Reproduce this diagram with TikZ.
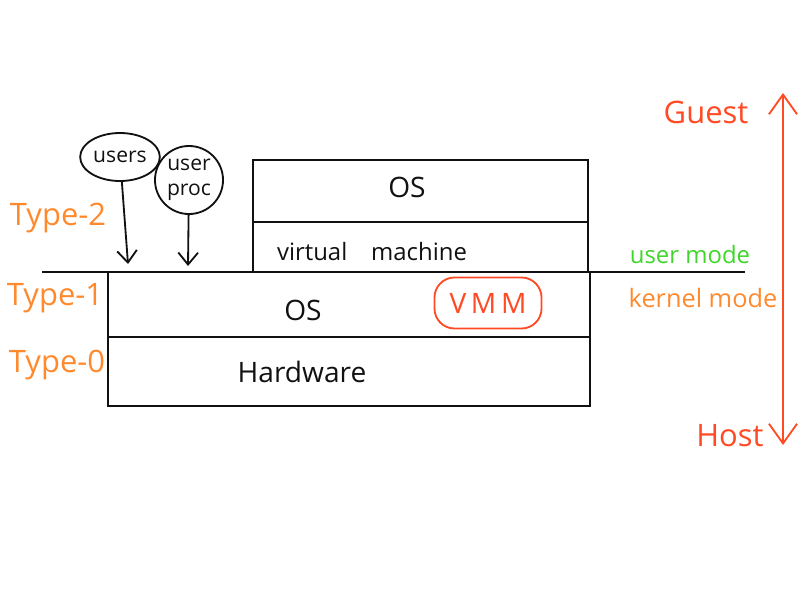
\documentclass[tikz,border=0pt]{standalone}
\usepackage{fontspec}
\setmainfont{Open Sans}
\usepackage{tikz}
\usetikzlibrary{arrows.meta,positioning,shapes.geometric}
\definecolor{ink}{HTML}{111111}
\definecolor{tagorange}{HTML}{FF8A2E}
\definecolor{hostred}{HTML}{FF4A24}
\definecolor{usergreen}{HTML}{3FD62A}

\begin{document}
\begin{tikzpicture}[
  x=0.025cm, y=-0.025cm,
  every node/.style={font=\fontsize{20}{24}\selectfont, text=ink},
  layer/.style={rectangle, draw=ink, line width=1.3pt, inner sep=0pt, outer sep=0pt},
  bubble/.style={ellipse, draw=ink, line width=1.3pt, inner sep=1pt, align=center, font=\fontsize{15}{18}\selectfont},
  tag/.style={text=tagorange, font=\fontsize{22}{26}\selectfont},
  mode/.style={font=\fontsize{17}{20}\selectfont},
  arrow/.style={-{Straight Barb[length=8.5pt,width=14pt]}, line width=1.3pt, draw=ink},
  span/.style={{Straight Barb[length=14pt,width=20pt]}-{Straight Barb[length=14pt,width=20pt]}, line width=1.3pt, draw=hostred}
]
\useasboundingbox (0,0) rectangle (800,600);

% layers
\node[layer, minimum width=12.05cm, minimum height=1.725cm] (hw)  at (349,371.5) {};
\node[layer, minimum width=12.05cm, minimum height=1.625cm] (kos) at (349,304.5) {};
\node[layer, minimum width=8.375cm, minimum height=1.25cm]  (vm)  at (420.5,247) {};
\node[layer, minimum width=8.375cm, minimum height=1.55cm]  (gos) at (420.5,191) {};

\node at (302,372) {Hardware};
\node at (303,310) {OS};
\node at (407,187) {OS};
\node[font=\fontsize{17}{20}\selectfont] at (372,252) {virtual\quad machine};
\node[rectangle, rounded corners=0.5cm, draw=hostred, line width=1.3pt, text=hostred,
      minimum width=2.675cm, minimum height=1.275cm] (vmm) at (488,303) {V\,M\,M};

% user / kernel boundary
\coordinate (lineL) at (42,272);
\coordinate (lineR) at (745,272);
\draw[line width=1.3pt, draw=ink] (lineL) -- (lineR);

\node[bubble, minimum width=1.85cm, minimum height=1.2cm] (users) at (120,157) {users};
\node[bubble, circle, inner sep=0pt, minimum size=1.7cm] (uproc) at (189,180) {user\\proc};
\coordinate (usersIn) at (128,264);
\coordinate (uprocIn) at (188,266);
\draw[arrow] (users) -- (usersIn);
\draw[arrow] (uproc) -- (uprocIn);

% types
\node[tag] (t2) at (58,218) {Type-2};
\node[tag] (t1) at (55,298) {Type-1};
\node[tag] (t0) at (57,365) {Type-0};

\node[mode, text=usergreen] (um) at (690,255) {user mode};
\node[mode, text=tagorange, font=\fontsize{18}{21}\selectfont] (km) at (703,298) {kernel mode};

% guest / host
\node[tag, text=hostred] (guest) at (706,112) {Guest};
\node[tag, text=hostred] (host)  at (730,436) {Host};
\coordinate (spanTop) at (783,93);
\coordinate (spanBot) at (783,445);
\draw[span] (spanBot) -- (spanTop);
\end{tikzpicture}
\end{document}
